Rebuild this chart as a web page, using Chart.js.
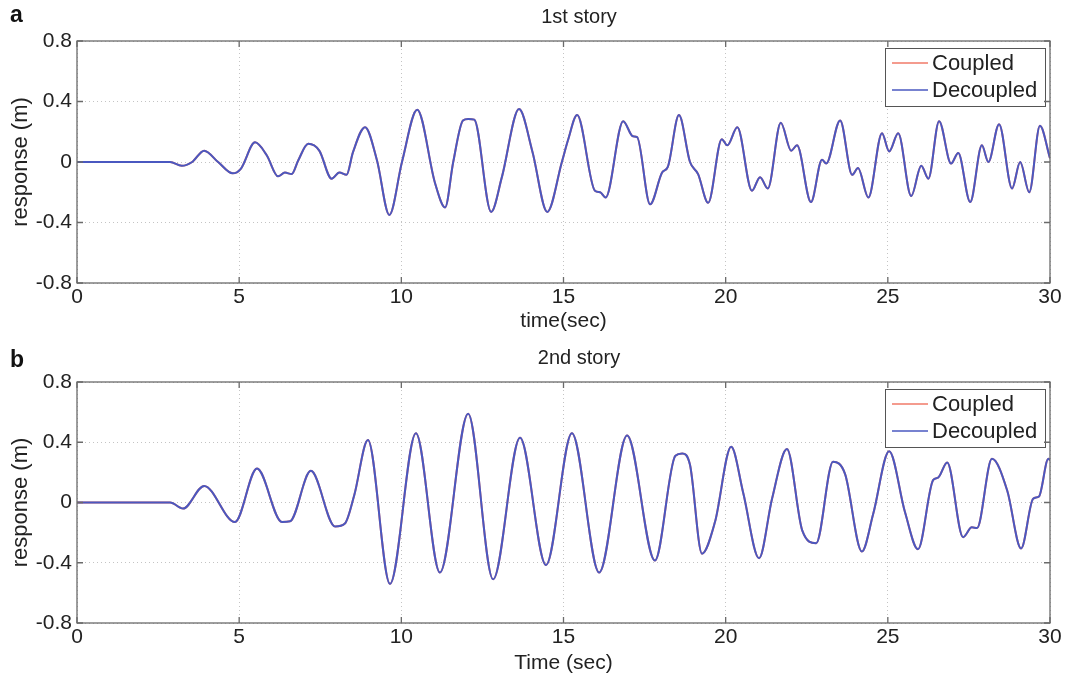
<!DOCTYPE html>
<html>
<head>
<meta charset="utf-8">
<script src="https://cdn.jsdelivr.net/npm/chart.js@4"></script>
<style>
    body { margin: 0; background: #fff; width: 1070px; height: 678px; position: relative; overflow: hidden; font-family: "Liberation Sans", Arial, sans-serif; }
    .panel { position: absolute; left: 0; width: 1070px; }
    .tag { position: absolute; left: 10px; font-weight: bold; font-size: 23px; line-height: 1; color: #111; }
</style>
</head>
<body>
<div class="panel" style="top:0;height:340px"><canvas id="story1Chart" width="1070" height="340"></canvas></div>
<div class="panel" style="top:340px;height:338px"><canvas id="story2Chart" width="1070" height="338"></canvas></div>
<div class="tag" style="top:3px">a</div>
<div class="tag" style="top:348px">b</div>
<script>
// time (sec) and response (m), 1st story
const time1 = [0, 2.87, 3.23, 3.55, 3.92, 4.35, 4.8, 5.05, 5.49, 5.85, 6.2, 6.41, 6.62, 6.82, 7.13, 7.47, 7.85, 8.09, 8.31, 8.51, 8.88, 9.25, 9.63, 10.02, 10.49, 11.04, 11.35, 11.6, 11.9, 12.06, 12.25, 12.77, 13.1, 13.63, 14.04, 14.5, 14.95, 15.14, 15.42, 15.97, 16.13, 16.3, 16.84, 17.14, 17.27, 17.67, 18.04, 18.22, 18.56, 18.9, 19.15, 19.46, 19.88, 20.05, 20.36, 20.81, 21.06, 21.3, 21.7, 22.02, 22.2, 22.63, 22.97, 23.1, 23.53, 23.9, 24.08, 24.4, 24.82, 25.04, 25.32, 25.72, 26.03, 26.25, 26.58, 26.95, 27.17, 27.54, 27.9, 28.1, 28.43, 28.83, 29.08, 29.36, 29.69, 30];
const story1 = [0, 0, -0.025, 0, 0.075, 0, -0.075, -0.045, 0.13, 0.045, -0.095, -0.07, -0.08, 0.01, 0.12, 0.075, -0.11, -0.07, -0.085, 0.065, 0.23, 0.01, -0.35, 0, 0.345, -0.14, -0.3, 0, 0.275, 0.285, 0.28, -0.33, -0.1, 0.35, 0.07, -0.33, 0, 0.145, 0.31, -0.19, -0.2, -0.235, 0.27, 0.17, 0.165, -0.28, -0.07, -0.03, 0.31, 0, -0.08, -0.27, 0.15, 0.11, 0.23, -0.19, -0.1, -0.175, 0.26, 0.075, 0.11, -0.265, 0.015, -0.01, 0.275, -0.085, -0.04, -0.235, 0.19, 0.07, 0.19, -0.225, -0.025, -0.11, 0.27, -0.01, 0.06, -0.265, 0.11, 0, 0.25, -0.175, 0, -0.2, 0.24, 0.025];

// 2nd story
const time2 = [0, 2.87, 3.27, 3.92, 4.87, 5.55, 6.32, 6.57, 7.21, 7.96, 8.26, 8.55, 8.97, 9.65, 10.45, 11.19, 12.06, 12.83, 13.66, 14.46, 15.26, 16.1, 16.96, 17.82, 18.45, 18.66, 18.9, 19.27, 19.67, 20.17, 20.54, 21.03, 21.43, 21.89, 22.36, 22.79, 23.31, 23.68, 24.2, 24.55, 25.04, 25.53, 25.93, 26.4, 26.55, 26.83, 27.32, 27.59, 27.75, 28.21, 28.68, 29.11, 29.48, 29.66, 29.95, 30];
const story2 = [0, 0, -0.04, 0.11, -0.13, 0.225, -0.13, -0.125, 0.21, -0.16, -0.14, 0.05, 0.415, -0.54, 0.46, -0.465, 0.59, -0.51, 0.43, -0.415, 0.46, -0.465, 0.445, -0.385, 0.31, 0.325, 0.25, -0.34, -0.13, 0.37, 0.065, -0.37, 0.025, 0.355, -0.185, -0.27, 0.27, 0.19, -0.325, -0.075, 0.34, -0.065, -0.31, 0.15, 0.165, 0.265, -0.23, -0.165, -0.17, 0.29, 0.08, -0.305, 0.025, 0.04, 0.29, 0.28];

const xTicks = [0, 5, 10, 15, 20, 25, 30];
const yTicks = [-0.8, -0.4, 0, 0.4, 0.8];
const seriesNames = ['Coupled', 'Decoupled'];
const seriesColors = ['#f07a68', '#4a58c0'];

const FONT = '"Liberation Sans", Arial, sans-serif';

// box, inner ticks, title and legend, MATLAB style
const framePlugin = {
    id: 'frame',
    afterDraw(chart, args, opts) {
        const { ctx, chartArea: a, scales } = chart;
        ctx.save();
        // legend
        const lx = a.right - 165, ly = a.top + 7;
        ctx.fillStyle = '#fff';
        ctx.fillRect(lx, ly, 160, 58);
        ctx.strokeStyle = '#555';
        ctx.lineWidth = 1;
        ctx.strokeRect(lx + 0.5, ly + 0.5, 160, 58);
        ctx.font = '22px ' + FONT;
        ctx.textAlign = 'left';
        ctx.textBaseline = 'middle';
        chart.data.datasets.forEach((ds, i) => {
            const y = ly + 15 + i * 27;
            ctx.strokeStyle = ds.borderColor;
            ctx.lineWidth = 1.5;
            ctx.beginPath();
            ctx.moveTo(lx + 7, y);
            ctx.lineTo(lx + 43, y);
            ctx.stroke();
            ctx.fillStyle = '#222';
            ctx.fillText(ds.label, lx + 47, y + 1);
        });
        // frame + ticks
        ctx.strokeStyle = '#6a6a6a';
        ctx.lineWidth = 1.3;
        ctx.strokeRect(a.left, a.top, a.width, a.height);
        ctx.beginPath();
        xTicks.forEach(v => {
            const x = scales.x.getPixelForValue(v);
            ctx.moveTo(x, a.bottom); ctx.lineTo(x, a.bottom - 6);
            ctx.moveTo(x, a.top); ctx.lineTo(x, a.top + 6);
        });
        yTicks.forEach(v => {
            const y = scales.y.getPixelForValue(v);
            ctx.moveTo(a.left, y); ctx.lineTo(a.left + 6, y);
            ctx.moveTo(a.right, y); ctx.lineTo(a.right - 6, y);
        });
        ctx.stroke();
        // title
        ctx.fillStyle = '#222';
        ctx.font = '20px ' + FONT;
        ctx.textAlign = 'center';
        ctx.fillText(opts.title, 579, a.top - 24);
        ctx.restore();
    }
};

function makeChart(id, times, values, title, xTitle, topPad, axisHeight, titlePad) {
    const pts = times.map((t, i) => ({ x: t, y: values[i] }));
    new Chart(document.getElementById(id), {
        type: 'line',
        data: {
            datasets: seriesNames.map((name, i) => ({
                label: name,
                data: pts,
                order: seriesNames.length - i,
                borderColor: seriesColors[i],
                borderWidth: 2,
                pointRadius: 0,
                cubicInterpolationMode: 'monotone',
                fill: false
            }))
        },
        options: {
            responsive: false,
            animation: false,
            layout: { padding: { top: topPad, right: 20, left: 0, bottom: 0 } },
            plugins: {
                legend: { display: false },
                tooltip: { enabled: false },
                frame: { title: title }
            },
            scales: {
                x: {
                    type: 'linear', min: 0, max: 30,
                    afterBuildTicks: s => { s.ticks = xTicks.map(v => ({ value: v })); },
                    afterFit: s => { s.height = axisHeight; },
                    grid: { color: '#c4c4c4', drawTicks: false },
                    border: { display: false, dash: [1, 3] },
                    ticks: { color: '#222', font: { family: FONT, size: 21 }, padding: 2, maxRotation: 0 },
                    title: { display: true, text: xTitle, color: '#222', font: { family: FONT, size: 21 }, padding: { top: 0, bottom: titlePad } }
                },
                y: {
                    min: -0.8, max: 0.8,
                    afterBuildTicks: s => { s.ticks = yTicks.map(v => ({ value: v })); },
                    afterFit: s => { s.width = 77; },
                    grid: { color: '#c4c4c4', drawTicks: false },
                    border: { display: false, dash: [1, 3] },
                    ticks: { color: '#222', font: { family: FONT, size: 21 }, padding: 5 },
                    title: { display: true, text: 'response (m)', color: '#222', font: { family: FONT, size: 22 }, padding: { top: 8, bottom: 0 } }
                }
            }
        },
        plugins: [framePlugin]
    });
}

document.addEventListener('DOMContentLoaded', () => {
    makeChart('story1Chart', time1, story1, '1st story', 'time(sec)', 41, 57, 6);
    makeChart('story2Chart', time2, story2, '2nd story', 'Time (sec)', 42, 55, 2);
});
</script>
</body>
</html>
